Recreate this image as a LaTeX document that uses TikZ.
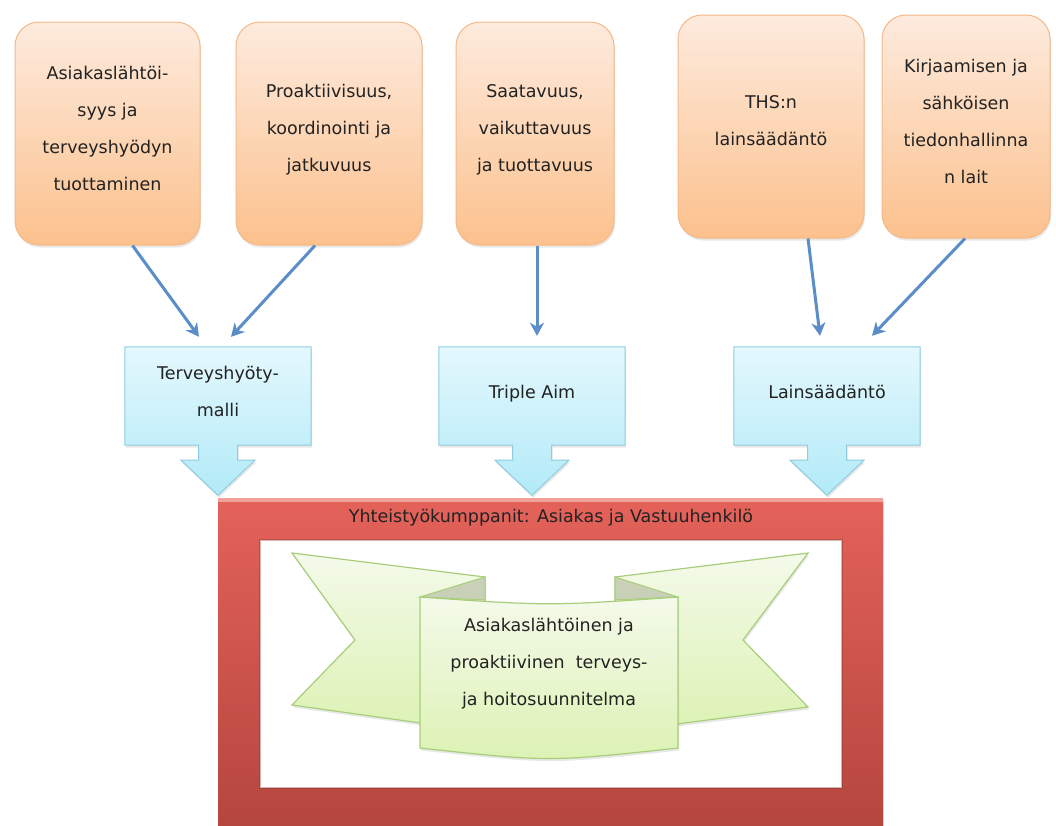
\documentclass[tikz,border=0pt]{standalone}
\usepackage{fontspec}
\setmainfont{DejaVu Sans}
\usetikzlibrary{arrows.meta,shadows,calc,backgrounds}

\definecolor{orTop}{HTML}{FDEBDE}
\definecolor{orBot}{HTML}{FCC18D}
\definecolor{orLine}{HTML}{F6B887}
\definecolor{blTop}{HTML}{E4F8FD}
\definecolor{blBot}{HTML}{B2EAF8}
\definecolor{blLine}{HTML}{8ECDE0}
\definecolor{connCol}{HTML}{5B8EC8}
\definecolor{rdTop}{HTML}{E4625A}
\definecolor{rdBot}{HTML}{B3453E}
\definecolor{gnTop}{HTML}{F4FAEA}
\definecolor{gnBot}{HTML}{DCF2B3}
\definecolor{gnLine}{HTML}{A8CE7A}
\definecolor{gnFold}{HTML}{C8D1B8}
\definecolor{ink}{HTML}{222222}

\pgfdeclarelayer{paper}
\pgfsetlayers{paper,background,main}

\tikzset{
  txt/.style={font=\fontsize{17.5}{37}\selectfont, text=ink, align=center},
  softshadow/.style={drop shadow={opacity=0.18, shadow xshift=1pt, shadow yshift=-2.5pt}},
  obox/.style={txt, rounded corners=24pt, draw=orLine, line width=1pt,
    top color=orTop, bottom color=orBot, minimum height=223pt, inner sep=0pt,
    text depth=11pt, softshadow},
  bluebox/.style={txt, minimum width=186pt, minimum height=98pt, inner sep=0pt, text depth=9pt},
  callout/.style={draw=blLine, line width=1pt, top color=blTop, bottom color=blBot, softshadow},
  link/.style={draw=connCol, line width=3pt, -{Stealth[length=13pt,width=14pt,inset=4pt]}},
  ribbon/.style={draw=gnLine, line width=1.2pt, top color=gnTop, bottom color=gnBot},
}

\begin{document}
\begin{tikzpicture}[x=1pt,y=-1pt]
\useasboundingbox (0,0) rectangle (1056,825);
\begin{pgfonlayer}{paper}
\fill[white] (0,0) rectangle (1056,825);
\end{pgfonlayer}
\clip (0,0) rectangle (1056,825);

% source boxes
\node[obox, minimum width=185pt] (o1) at (107.5,133.5) {Asiakaslähtöi-\\syys ja\\terveyshyödyn\\tuottaminen};
\node[obox, minimum width=186pt] (o2) at (329,133.5) {Proaktiivisuus,\\koordinointi ja\\jatkuvuus};
\node[obox, minimum width=158pt] (o3) at (535,133.5) {Saatavuus,\\vaikuttavuus\\ja tuottavuus};
\node[obox, minimum width=186pt] (o4) at (771,126.5) {THS:n\\lainsäädäntö};
\node[obox, minimum width=168pt] (o5) at (966,126.5) {Kirjaamisen ja\\sähköisen\\tiedonhallinna\\n lait};

% framework boxes with downward arrows
\node[bluebox] (t1) at (218,396) {Terveyshyöty-\\malli};
\node[bluebox] (t2) at (532,396) {Triple Aim};
\node[bluebox] (t3) at (827,396) {Lainsäädäntö};

\begin{pgfonlayer}{background}
\foreach \t in {t1,t2,t3}{
  \path[callout] (\t.north west) -- (\t.north east) -- (\t.south east)
    -- ($(\t.south)+(19.5,0)$) -- ($(\t.south)+(19.5,15)$) -- ($(\t.south)+(37,15)$)
    -- ($(\t.south)+(0,50)$)
    -- ($(\t.south)+(-37,15)$) -- ($(\t.south)+(-19.5,15)$) -- ($(\t.south)+(-19.5,0)$)
    -- (\t.south west) -- cycle;
}
\end{pgfonlayer}

% connectors
\draw[link] ([xshift=25pt]o1.south) -- ([xshift=-19pt,yshift=10pt]t1.north);
\draw[link] ([xshift=-14pt]o2.south) -- ([xshift=13pt,yshift=10pt]t1.north);
\draw[link] ([xshift=2pt]o3.south) -- ([xshift=5pt,yshift=11pt]t2.north);
\draw[link] ([xshift=37pt]o4.south) -- ([xshift=-7pt,yshift=11pt]t3.north);
\draw[link] ([xshift=-1pt]o5.south) -- ([xshift=45pt,yshift=11pt]t3.north);

% partnership frame
\node[top color=rdTop, bottom color=rdBot, minimum width=665pt, minimum height=340pt,
      inner sep=0pt, softshadow] (frame) at (550.5,668) {};
\fill[white!80!rdTop, opacity=0.5] (218,498) rectangle (883,502);
\node[fill=white, draw=rdBot!70!black, draw opacity=0.35, line width=1.5pt,
      minimum width=582pt, minimum height=248pt, inner sep=0pt] (inner) at (551,664) {};
\node[txt] (partners) at (551,518) {Yhteistyökumppanit: Asiakas ja Vastuuhenkilö};

% ribbon banner
\path[ribbon, softshadow] (292,553) -- (485,577) -- (485,732) -- (292,705) -- (355,640) -- cycle;
\path[ribbon, softshadow] (808,553) -- (615,577) -- (615,732) -- (808,707) -- (743,640) -- cycle;
\filldraw[fill=gnFold, draw=gnLine, line width=1pt] (485,577) -- (420,597) -- (485,600) -- cycle;
\filldraw[fill=gnFold, draw=gnLine, line width=1pt] (615,577) -- (678,597) -- (615,600) -- cycle;
\path[ribbon, softshadow] (420,597) .. controls (549,606) .. (678,597) -- (678,748)
  .. controls (549,762) .. (420,748) -- cycle;
\node[txt] (plan) at (549,664) {Asiakaslähtöinen ja\\proaktiivinen~ terveys-\\ja hoitosuunnitelma};
\end{tikzpicture}
\end{document}
